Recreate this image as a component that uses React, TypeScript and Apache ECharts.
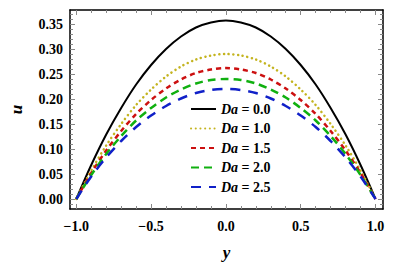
import React, { useEffect, useRef } from "react";
import * as echarts from "echarts";

const yPos = [-1.0, -0.9, -0.8, -0.7, -0.6, -0.5, -0.4, -0.3, -0.2, -0.1, 0.0, 0.1, 0.2, 0.3, 0.4, 0.5, 0.6, 0.7, 0.8, 0.9, 1.0];
const da00 = [0, 0.068, 0.129, 0.182, 0.229, 0.268, 0.300, 0.325, 0.343, 0.353, 0.357, 0.353, 0.343, 0.325, 0.300, 0.268, 0.229, 0.182, 0.129, 0.068, 0];
const da10 = [0, 0.057, 0.107, 0.150, 0.188, 0.219, 0.245, 0.265, 0.279, 0.287, 0.290, 0.287, 0.279, 0.265, 0.245, 0.219, 0.188, 0.150, 0.107, 0.057, 0];
const da15 = [0, 0.052, 0.097, 0.136, 0.170, 0.198, 0.221, 0.239, 0.252, 0.259, 0.262, 0.259, 0.252, 0.239, 0.221, 0.198, 0.170, 0.136, 0.097, 0.052, 0];
const da20 = [0, 0.048, 0.090, 0.126, 0.157, 0.182, 0.203, 0.219, 0.231, 0.238, 0.240, 0.238, 0.231, 0.219, 0.203, 0.182, 0.157, 0.126, 0.090, 0.048, 0];
const da25 = [0, 0.045, 0.083, 0.116, 0.144, 0.167, 0.186, 0.201, 0.212, 0.218, 0.220, 0.218, 0.212, 0.201, 0.186, 0.167, 0.144, 0.116, 0.083, 0.045, 0];
const seriesNames = ["0.0", "1.0", "1.5", "2.0", "2.5"];
const xMajor = [-1.0, -0.5, 0.0, 0.5, 1.0];
const xMinor = [-1.0, -0.9, -0.8, -0.7, -0.6, -0.5, -0.4, -0.3, -0.2, -0.1, 0, 0.1, 0.2, 0.3, 0.4, 0.5, 0.6, 0.7, 0.8, 0.9, 1.0];
const yMajor = [0, 0.05, 0.1, 0.15, 0.2, 0.25, 0.3, 0.35];
const yMinor = [-0.01, 0, 0.01, 0.02, 0.03, 0.04, 0.05, 0.06, 0.07, 0.08, 0.09, 0.1, 0.11, 0.12, 0.13, 0.14, 0.15, 0.16, 0.17, 0.18, 0.19, 0.2, 0.21, 0.22, 0.23, 0.24, 0.25, 0.26, 0.27, 0.28, 0.29, 0.3, 0.31, 0.32, 0.33, 0.34, 0.35, 0.36, 0.37];

const FONT = "'Liberation Serif', 'DejaVu Serif', serif";

export default function App() {
  const ref = useRef<HTMLDivElement>(null);
  useEffect(() => {
    if (!ref.current) return;
    const chart = echarts.init(ref.current, null, { renderer: "svg" });
    const allData = [da00, da10, da15, da20, da25];
    const styles = [
      { color: "#000000", width: 2, type: "solid" as any },
      { color: "#c4b420", width: 2.5, type: [0.1, 4.6] as any, cap: "round" },
      { color: "#cc1010", width: 2.5, type: [5, 4] as any },
      { color: "#10b010", width: 2.5, type: [8, 5] as any },
      { color: "#1020c8", width: 2.5, type: [10, 8] as any },
    ];
    const xMin = -1.042, xMax = 1.05, yMin = -0.02, yMax = 0.378;
    const axisLine = { show: true, onZero: false, lineStyle: { color: "#000", width: 1.5 } };
    const noLine = { show: false, onZero: false };
    const tickStyle = { color: "#888", width: 1 };
    const mkX = (pos: string, vals: number[], len: number, labels: boolean, line: boolean) => ({
      type: "value", position: pos, min: xMin, max: xMax,
      axisLine: line ? axisLine : noLine,
      splitLine: { show: false },
      axisTick: { show: true, inside: true, length: len, customValues: vals, lineStyle: tickStyle },
      axisLabel: labels
        ? { show: true, customValues: xMajor, margin: 10, color: "#000", fontFamily: FONT, fontWeight: "bold", fontSize: 14,
            formatter: (v: number) => v.toFixed(1).replace("-", "\u2212") }
        : { show: false },
      ...(labels ? { name: "y", nameLocation: "middle", nameGap: 35,
        nameTextStyle: { fontFamily: FONT, fontStyle: "italic", fontWeight: "bold", fontSize: 17, color: "#000" } } : {}),
    });
    const mkY = (pos: string, vals: number[], len: number, labels: boolean, line: boolean) => ({
      type: "value", position: pos, min: yMin, max: yMax,
      axisLine: line ? axisLine : noLine,
      splitLine: { show: false },
      axisTick: { show: true, inside: true, length: len, customValues: vals, lineStyle: tickStyle },
      axisLabel: labels
        ? { show: true, customValues: yMajor, margin: 7, color: "#000", fontFamily: FONT, fontWeight: "bold", fontSize: 14,
            formatter: (v: number) => v.toFixed(2) }
        : { show: false },
      ...(labels ? { name: "u", nameLocation: "middle", nameGap: 45, nameRotate: 90,
        nameTextStyle: { fontFamily: FONT, fontStyle: "italic", fontWeight: "bold", fontSize: 17, color: "#000" } } : {}),
    });
    chart.setOption({
      animation: false,
      grid: { left: 60, top: 10, width: 323, height: 199, containLabel: false },
      xAxis: [
        mkX("bottom", xMajor, 5, true, true),
        mkX("bottom", xMinor, 3, false, false),
        mkX("top", xMajor, 5, false, true),
        mkX("top", xMinor, 3, false, false),
      ],
      yAxis: [
        mkY("left", yMajor, 5, true, true),
        mkY("left", yMinor, 3, false, false),
        mkY("right", yMajor, 5, false, true),
        mkY("right", yMinor, 3, false, false),
      ],
      legend: {
        left: 185, top: 97, orient: "vertical", itemWidth: 25, itemHeight: 8, itemGap: 5.5,
        data: seriesNames,
        itemStyle: { opacity: 0 },
        formatter: (n: string) => "{i|Da} = " + n,
        textStyle: {
          fontFamily: FONT, fontWeight: "bold", fontSize: 14, color: "#000",
          rich: { i: { fontFamily: FONT, fontStyle: "italic", fontWeight: "bold", fontSize: 14, color: "#000" } },
        },
      },
      series: allData.map((arr, i) => ({
        type: "line", name: seriesNames[i], xAxisIndex: 0, yAxisIndex: 0,
        data: yPos.map((y, j) => [y, arr[j]]),
        smooth: 0.3, symbol: "none", showSymbol: false,
        lineStyle: styles[i], itemStyle: { color: styles[i].color },
      })),
    });
    return () => chart.dispose();
  }, []);
  return <div ref={ref} style={{ width: 396, height: 270, position: "absolute", left: 0, top: 0 }} />;
}
